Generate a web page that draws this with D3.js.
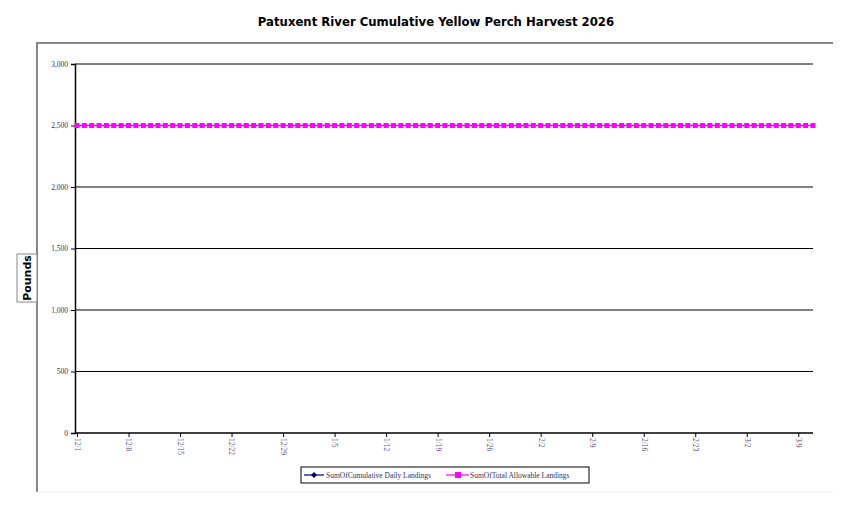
<!DOCTYPE html>
<html><head><meta charset="utf-8">
<script src="https://cdn.jsdelivr.net/npm/d3@7"></script>
<style>body{margin:0;background:#fff}</style></head>
<body><svg id="c" width="845" height="506"></svg>
<script>
const startDate = "2025-12-01";
const dayCount = 101;
const tickLabels = ["12/1","12/8","12/15","12/22","12/29","1/5","1/12","1/19","1/26","2/2","2/9","2/16","2/23","3/2","3/9"];
const yTicks = [0,500,1000,1500,2000,2500,3000];
const cumulativeDaily = [];
const totalAllowable = [2500,2500,2500,2500,2500,2500,2500,2500,2500,2500,2500,2500,2500,2500,2500,2500,2500,2500,2500,2500,
2500,2500,2500,2500,2500,2500,2500,2500,2500,2500,2500,2500,2500,2500,2500,2500,2500,2500,2500,2500,
2500,2500,2500,2500,2500,2500,2500,2500,2500,2500,2500,2500,2500,2500,2500,2500,2500,2500,2500,2500,
2500,2500,2500,2500,2500,2500,2500,2500,2500,2500,2500,2500,2500,2500,2500,2500,2500,2500,2500,2500,
2500,2500,2500,2500,2500,2500,2500,2500,2500,2500,2500,2500,2500,2500,2500,2500,2500,2500,2500,2500,2500];

const svg = d3.select("#c");
const L=75,R=813,T=64,B=433;
const x = d3.scaleLinear().domain([0, dayCount-1]).range([77, 813]);
const y = d3.scaleLinear().domain([0,3000]).range([B,T]);

svg.append("path").attr("d","M37,492V43H833").attr("fill","none").attr("stroke","#888").attr("stroke-width",2);
svg.append("line").attr("x1",37).attr("x2",833).attr("y1",492).attr("y2",492).attr("stroke","#eee");

svg.append("text").attr("x",436).attr("y",26).attr("text-anchor","middle")
 .attr("font-family","Verdana, DejaVu Sans, sans-serif").attr("font-weight","bold").attr("font-size",11.7)
 .text("Patuxent River Cumulative Yellow Perch Harvest 2026");

svg.append("g").selectAll("line").data(yTicks.filter(d=>d>0)).join("line")
 .attr("x1",L).attr("x2",R).attr("y1",d=>y(d)).attr("y2",d=>y(d)).attr("stroke","#000").attr("stroke-width",1);

const ya = svg.append("g").attr("transform",`translate(${L},0)`)
 .call(d3.axisLeft(y).tickValues(yTicks).tickSize(4).tickFormat(d3.format(",")));
ya.select(".domain").attr("stroke","#000").attr("stroke-width",1.5);
ya.selectAll("text").attr("font-family","Liberation Serif, serif").attr("font-size",7.5).attr("fill","#335");

const tickIdx = tickLabels.map((_,i)=>i*7);
const xa = svg.append("g").attr("transform",`translate(0,${B})`)
 .call(d3.axisBottom(x).tickValues(tickIdx).tickSize(4).tickFormat((d,i)=>tickLabels[i]));
xa.select(".domain").attr("d",`M${L},0H${R}`).attr("stroke","#000").attr("stroke-width",1.5);
xa.selectAll("text").attr("font-family","Liberation Serif, serif").attr("font-size",7.5).attr("fill","#557")
 .attr("transform","rotate(90)").attr("text-anchor","start").attr("x",5).attr("y",0).attr("dy","0.35em");

const line = d3.line().x((d,i)=>x(i)).y(d=>y(d));
svg.append("path").datum(totalAllowable).attr("d",line).attr("fill","none").attr("stroke","#f0f").attr("stroke-width",1.5);
svg.append("g").selectAll("rect").data(totalAllowable).join("rect")
 .attr("x",(d,i)=>x(i)-2.5).attr("y",d=>y(d)-2.5).attr("width",5).attr("height",5).attr("fill","#f0f");
svg.append("path").datum(cumulativeDaily).attr("d",line).attr("fill","none").attr("stroke","#000080");

svg.append("rect").attr("x",17).attr("y",254).attr("width",20).attr("height",48).attr("fill","#fff").attr("stroke","#888");
svg.append("text").attr("transform","translate(31,278) rotate(-90)").attr("text-anchor","middle")
 .attr("font-family","Verdana, DejaVu Sans, sans-serif").attr("font-weight","bold").attr("font-size",11).text("Pounds");

const lg = svg.append("g");
lg.append("rect").attr("x",301).attr("y",467).attr("width",288).attr("height",16).attr("fill","#fff").attr("stroke","#000");
lg.append("line").attr("x1",304).attr("x2",324).attr("y1",475).attr("y2",475).attr("stroke","#000080").attr("stroke-width",1.2);
lg.append("path").attr("d","M314,472L317,475L314,478L311,475Z").attr("fill","#000080");
lg.append("text").attr("x",326).attr("y",478).attr("font-family","Liberation Serif, serif").attr("font-size",7.5).attr("fill","#335").text("SumOfCumulative Daily Landings");
lg.append("line").attr("x1",446).attr("x2",469).attr("y1",475).attr("y2",475).attr("stroke","#f0f").attr("stroke-width",1.2);
lg.append("rect").attr("x",455).attr("y",472).attr("width",6).attr("height",6).attr("fill","#f0f");
lg.append("text").attr("x",470).attr("y",478).attr("font-family","Liberation Serif, serif").attr("font-size",7.5).attr("fill","#335").text("SumOfTotal Allowable Landings");
</script></body></html>
